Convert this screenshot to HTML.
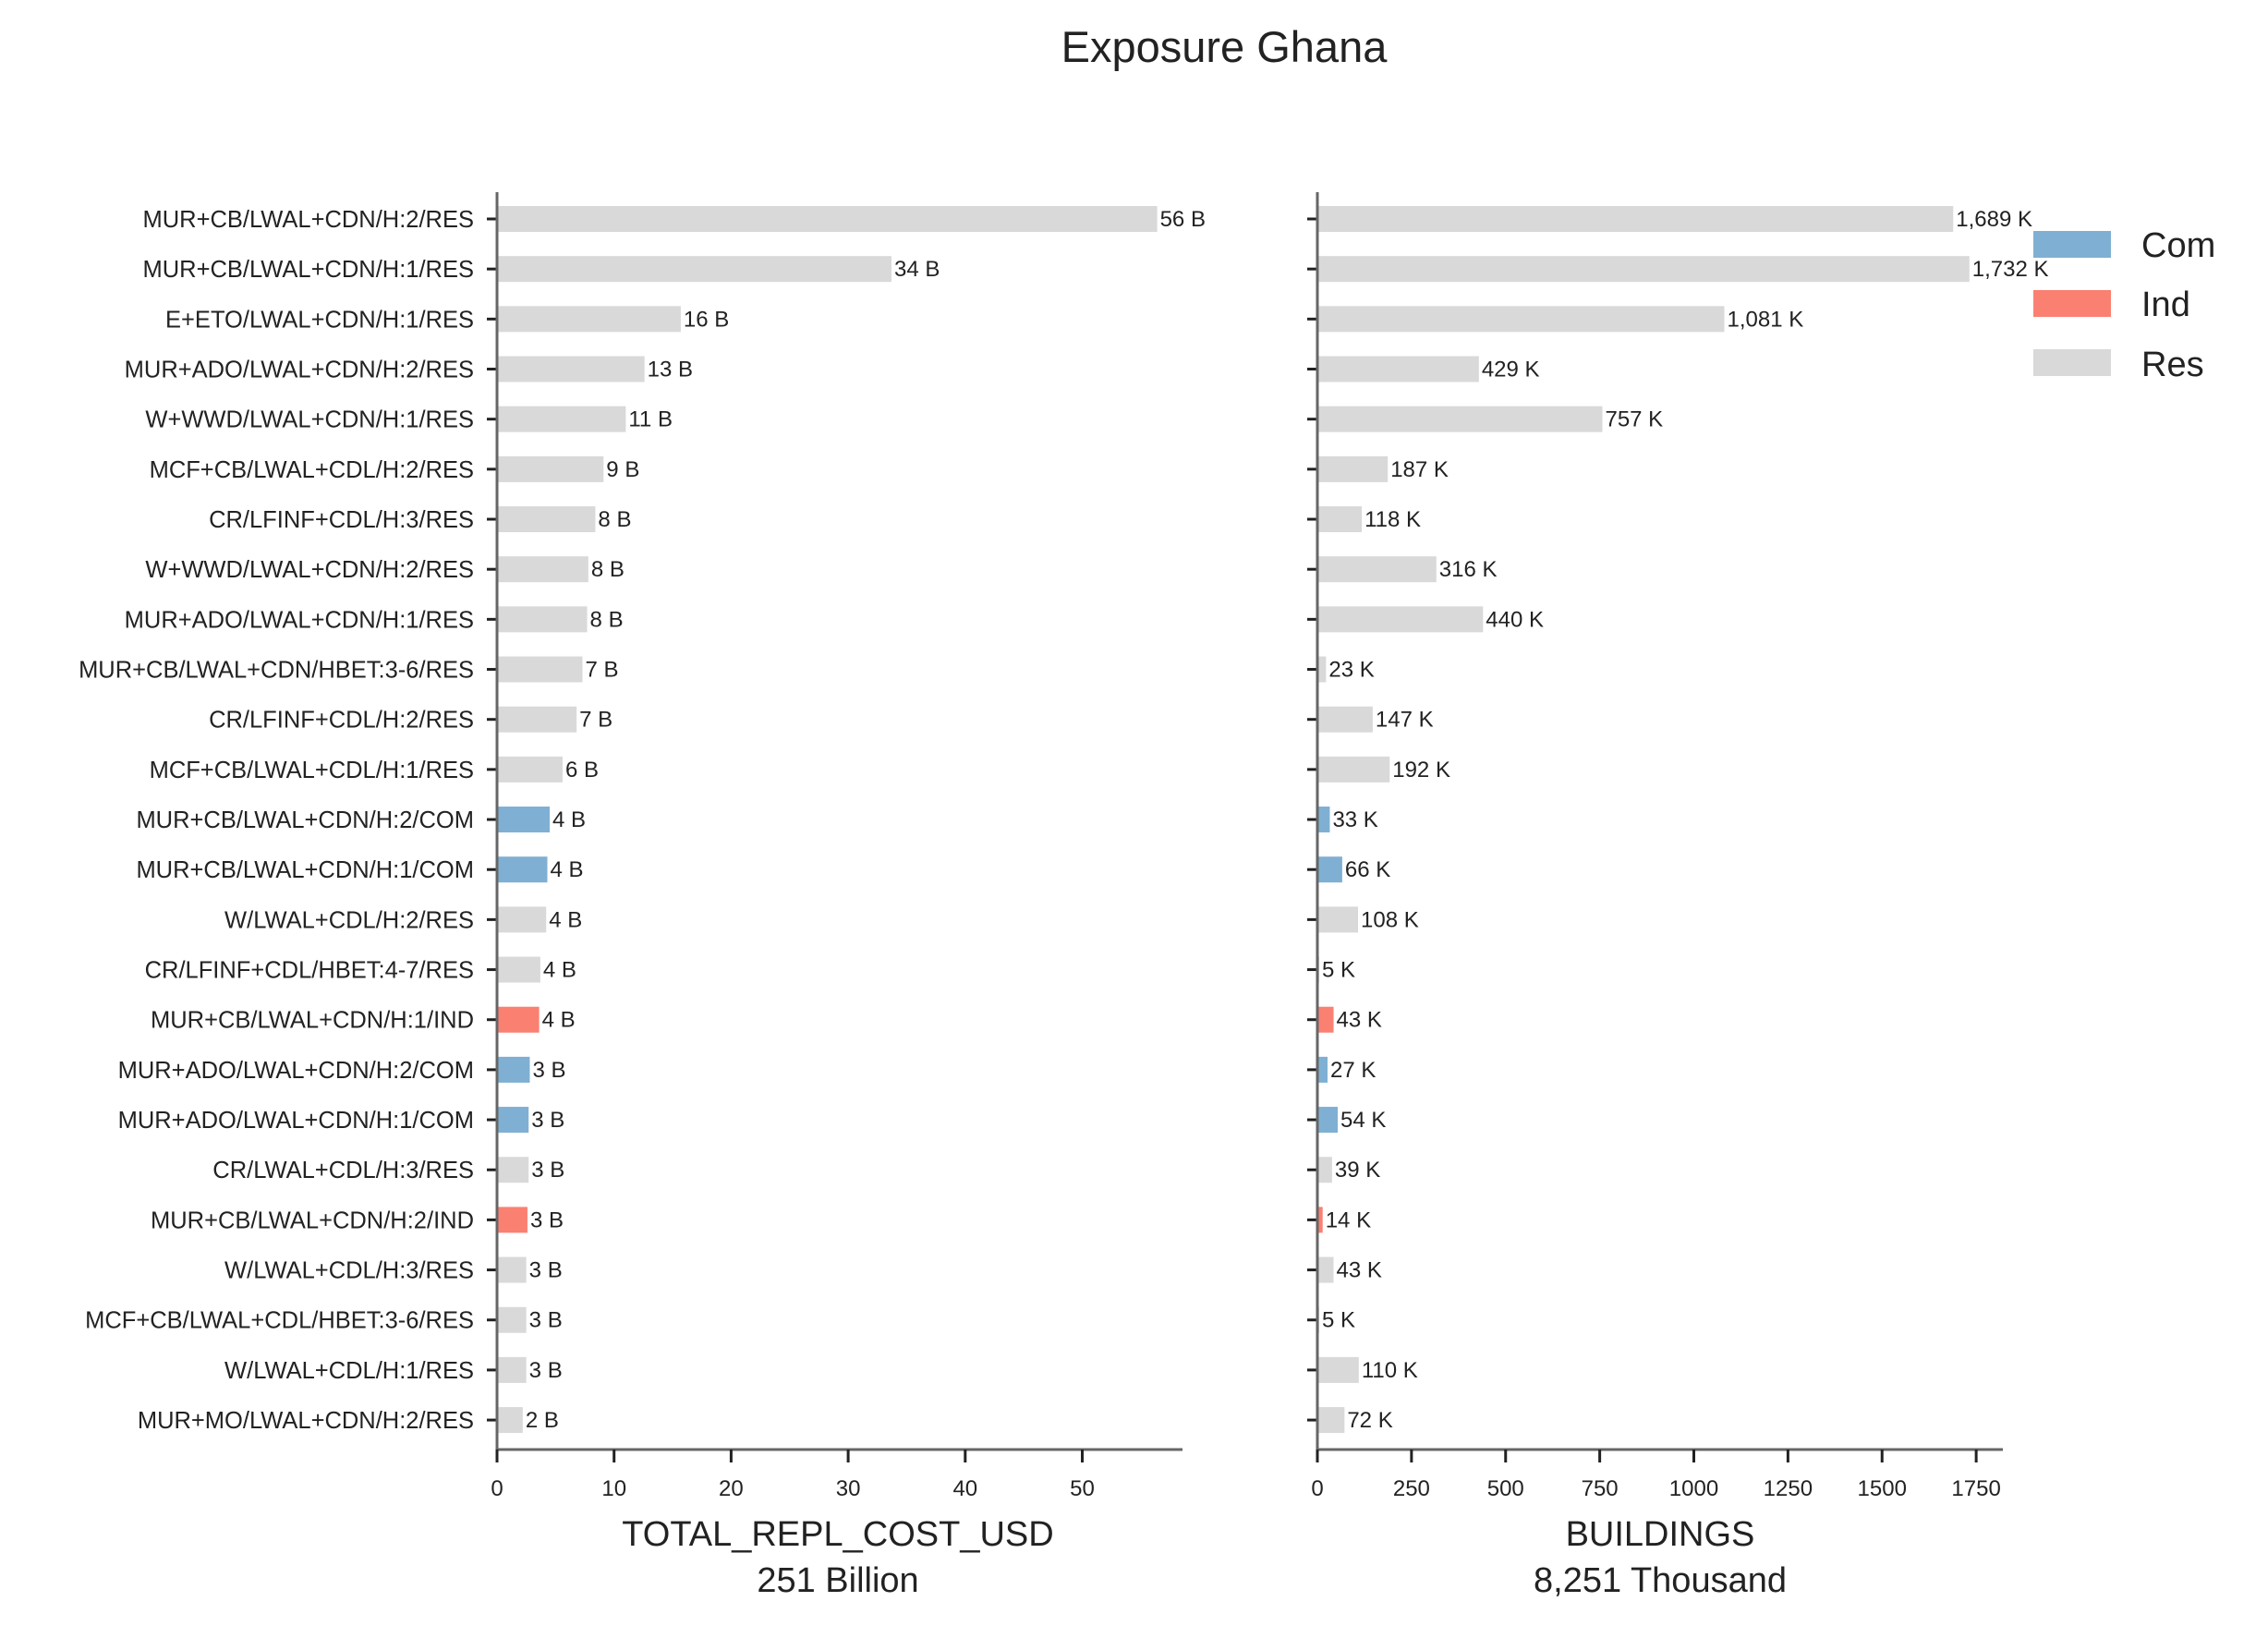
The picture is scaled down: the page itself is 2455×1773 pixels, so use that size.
<!DOCTYPE html>
<html><head><meta charset="utf-8"><style>
html,body{margin:0;padding:0;background:#fff;}
svg text{font-family:"Liberation Sans",sans-serif;fill:#222;}
</style></head><body>
<svg id="chart" width="2455" height="1768" viewBox="0 0 2455 1768" xmlns="http://www.w3.org/2000/svg">
<text x="1325" y="67" font-size="47" text-anchor="middle">Exposure Ghana</text>
<g id="left"></g>
<g id="right"></g>
<text x="907" y="1673" font-size="38" text-anchor="middle">TOTAL_REPL_COST_USD</text>
<text x="907" y="1723" font-size="38" text-anchor="middle">251 Billion</text>
<text x="1797" y="1673" font-size="38" text-anchor="middle">BUILDINGS</text>
<text x="1797" y="1723" font-size="38" text-anchor="middle">8,251 Thousand</text>
<g>
<rect x="2201" y="250" width="84" height="29" fill="#7fb0d3"/>
<text x="2318" y="278" font-size="38">Com</text>
<rect x="2201" y="314" width="84" height="29" fill="#fa8072"/>
<text x="2318" y="342" font-size="38">Ind</text>
<rect x="2201" y="378" width="84" height="29" fill="#d9d9d9"/>
<text x="2318" y="407" font-size="38">Res</text>
</g>
</svg>
<script>
const categories = ["MUR+CB/LWAL+CDN/H:2/RES","MUR+CB/LWAL+CDN/H:1/RES","E+ETO/LWAL+CDN/H:1/RES","MUR+ADO/LWAL+CDN/H:2/RES","W+WWD/LWAL+CDN/H:1/RES","MCF+CB/LWAL+CDL/H:2/RES","CR/LFINF+CDL/H:3/RES","W+WWD/LWAL+CDN/H:2/RES","MUR+ADO/LWAL+CDN/H:1/RES","MUR+CB/LWAL+CDN/HBET:3-6/RES","CR/LFINF+CDL/H:2/RES","MCF+CB/LWAL+CDL/H:1/RES","MUR+CB/LWAL+CDN/H:2/COM","MUR+CB/LWAL+CDN/H:1/COM","W/LWAL+CDL/H:2/RES","CR/LFINF+CDL/HBET:4-7/RES","MUR+CB/LWAL+CDN/H:1/IND","MUR+ADO/LWAL+CDN/H:2/COM","MUR+ADO/LWAL+CDN/H:1/COM","CR/LWAL+CDL/H:3/RES","MUR+CB/LWAL+CDN/H:2/IND","W/LWAL+CDL/H:3/RES","MCF+CB/LWAL+CDL/HBET:3-6/RES","W/LWAL+CDL/H:1/RES","MUR+MO/LWAL+CDN/H:2/RES"];
const costValues = [56.4,33.7,15.7,12.6,11.0,9.1,8.4,7.8,7.7,7.3,6.8,5.6,4.5,4.3,4.2,3.7,3.6,2.8,2.7,2.7,2.6,2.5,2.5,2.5,2.2];
const costLabels = ["56 B","34 B","16 B","13 B","11 B","9 B","8 B","8 B","8 B","7 B","7 B","6 B","4 B","4 B","4 B","4 B","4 B","3 B","3 B","3 B","3 B","3 B","3 B","3 B","2 B"];
const buildingValues = [1689,1732,1081,429,757,187,118,316,440,23,147,192,33,66,108,5,43,27,54,39,14,43,5,110,72];
const buildingLabels = ["1,689 K","1,732 K","1,081 K","429 K","757 K","187 K","118 K","316 K","440 K","23 K","147 K","192 K","33 K","66 K","108 K","5 K","43 K","27 K","54 K","39 K","14 K","43 K","5 K","110 K","72 K"];
const costTicks = [0,10,20,30,40,50];
const buildingTicks = [0,250,500,750,1000,1250,1500,1750];

const NS="http://www.w3.org/2000/svg";
const colorFor = c => c.endsWith("/COM") ? "#7fb0d3" : c.endsWith("/IND") ? "#fa8072" : "#d9d9d9";
const rowY = i => 237 + i*54.17;
function mk(parent, tag, attrs){const e=document.createElementNS(NS,tag);for(const k in attrs)e.setAttribute(k,attrs[k]);parent.appendChild(e);return e;}

function panel(g, x0, x1, scale, values, labels, ticks, name, showCats){
  const xs = v => x0 + v*scale;
  values.forEach((v,i)=>{
    const r = mk(g,"rect",{x:x0,y:rowY(i)-14,width:Math.max(0,xs(v)-x0),height:28,fill:colorFor(categories[i])});
    
    
    const t = mk(g,"text",{x:xs(v)+3,y:rowY(i)+8,"font-size":24});
    t.textContent = labels[i];
    
    
    const tk = mk(g,"line",{x1:x0-11,x2:x0,y1:rowY(i),y2:rowY(i),stroke:"#222","stroke-width":3});
    
    
    if(showCats){
      const c = mk(g,"text",{x:x0-25,y:rowY(i)+9,"font-size":25.5,"text-anchor":"end"});
      c.textContent = categories[i];
      
      
    }
  });
  const ya = mk(g,"line",{x1:x0,x2:x0,y1:208,y2:1570,stroke:"#666","stroke-width":3});
  
  
  const xa = mk(g,"line",{x1:x0,x2:x1,y1:1569,y2:1569,stroke:"#666","stroke-width":3});
  
  
  ticks.forEach((t,i)=>{
    const l = mk(g,"line",{x1:xs(t),x2:xs(t),y1:1569,y2:1583,stroke:"#222","stroke-width":3});
    
    
    const tx = mk(g,"text",{x:xs(t),y:1619,"font-size":24,"text-anchor":"middle"});
    tx.textContent = t;
    
    
  });
}
panel(document.getElementById("left"), 538, 1280, 12.67, costValues, costLabels, costTicks, "cost", true);
panel(document.getElementById("right"), 1426, 2168, 0.4075, buildingValues, buildingLabels, buildingTicks, "buildings", false);
</script>
</body></html>
